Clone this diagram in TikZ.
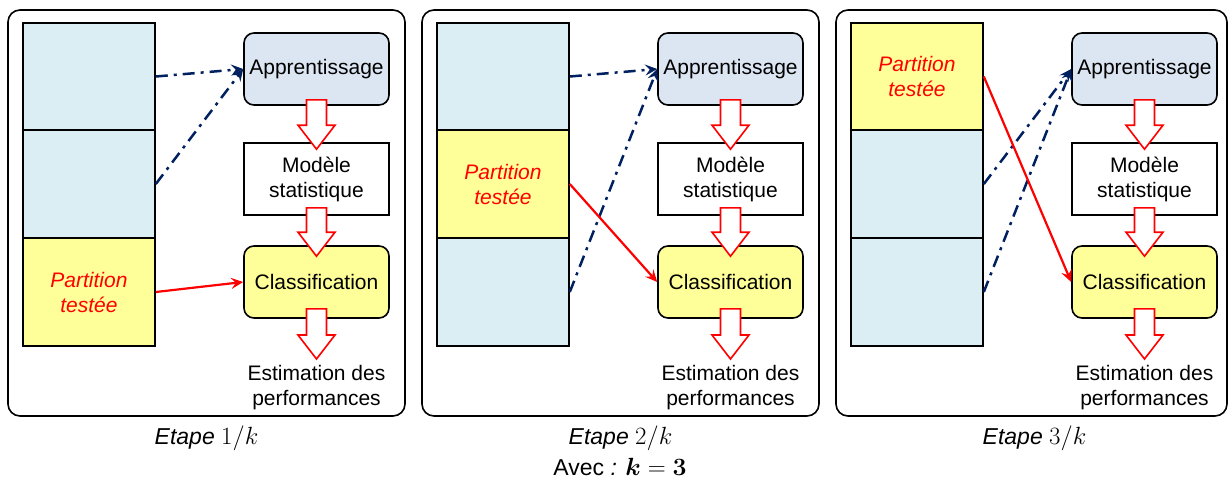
\documentclass[tikz,border=0pt]{standalone}
\usepackage[no-math]{fontspec}
\setmainfont{Liberation Sans}
\usepackage{amsmath,bm}
\usetikzlibrary{calc,arrows.meta}
\definecolor{cellblue}{RGB}{218,238,243}
\definecolor{cellyellow}{RGB}{255,255,153}
\definecolor{appblue}{RGB}{220,230,242}
\definecolor{navy}{RGB}{0,32,96}
\tikzset{
  panel/.style={draw, line width=1.6pt, rounded corners=12pt},
  cell/.style={draw, line width=1.6pt, minimum width=132pt, minimum height=107.5pt, inner sep=0pt, fill=cellblue},
  testcell/.style={cell, fill=cellyellow, text=red, font=\fontsize{21}{25}\selectfont\itshape, align=center},
  procbox/.style={draw, line width=1.6pt, minimum width=145pt, minimum height=72pt, inner sep=0pt, align=center},
  roundbox/.style={procbox, rounded corners=10pt},
  trainarrow/.style={navy, line width=2.5pt, dash pattern=on 12pt off 6pt on 3pt off 6pt, -{Stealth[length=12pt,width=11pt,inset=4.5pt]}},
  testarrow/.style={red, line width=2.2pt, -{Stealth[length=12pt,width=11pt,inset=4.5pt]}},
  blockarr/.style={draw=red, fill=white, line width=1.6pt, line join=miter},
  lbl/.style={align=center, inner sep=0pt},
  caption/.style={inner sep=0pt, font=\fontsize{23}{27}\selectfont}
}
\newcommand\blkarrow[2]{%
  \draw[blockarr] ($(#1)+(-10,0)$) -- ($(#1)+(10,0)$) -- ($(#2)+(10,-24)$) -- ($(#2)+(18.5,-24)$) -- (#2)
    -- ($(#2)+(-18.5,-24)$) -- ($(#2)+(-10,-24)$) -- cycle;}
\begin{document}
\begin{tikzpicture}[x=1pt, y=-1pt, font=\fontsize{21}{25}\selectfont]
\useasboundingbox (0,0) rectangle (1229,482);
% panels
\draw[panel] (8,10) rectangle (405,416);
\draw[panel] (422,10) rectangle (819,416);
\draw[panel] (836,10) rectangle (1227,416);
\foreach \p/\dx/\t in {1/0/3,2/414/2,3/828/1}{
  \begin{scope}[xshift=\dx pt]
    \foreach \r/\y in {1/76.5,2/184,3/292}{
      \ifnum\r=\t
        \node[testcell] (c\p\r) at (89,\y) {Partition\\testée};
      \else
        \node[cell] (c\p\r) at (89,\y) {};
      \fi
    }
    \node[roundbox, fill=appblue] (A\p) at (316.5,69) {Apprentissage};
    \node[procbox, fill=white] (M\p) at (316.5,179) {Modèle\\statistique};
    \node[roundbox, fill=cellyellow] (C\p) at (316.5,282) {Classification};
    \node[lbl] (E\p) at (316.5,387.5) {Estimation des\\performances};
    \foreach \r in {1,2,3}{
      \ifnum\r=\t\else
        \draw[trainarrow] (c\p\r.east) -- (A\p.west);
      \fi
    }
    \draw[testarrow] (c\p\t.east) -- (C\p.west);
    \coordinate (s\p a) at ($(A\p.south)+(0,-6)$);
    \coordinate (t\p a) at ($(M\p.north)+(0,7)$);
    \coordinate (s\p b) at ($(M\p.south)+(0,-8)$);
    \coordinate (t\p b) at ($(C\p.north)+(0,11)$);
    \coordinate (s\p c) at ($(C\p.south)+(0,-10)$);
    \coordinate (t\p c) at (316.5,359);
    \blkarrow{s\p a}{t\p a}
    \blkarrow{s\p b}{t\p b}
    \blkarrow{s\p c}{t\p c}
  \end{scope}
}
\node[caption] (L1) at (206.5,438) {\textit{Etape} $1/k$};
\node[caption] (L2) at (620.5,438) {\textit{Etape} $2/k$};
\node[caption] (L3) at (1034.5,438) {\textit{Etape} $3/k$};
\node[caption] (L4) at (620,467) {Avec \textit{:} $\bm{k}=\mathbf{3}$};
\end{tikzpicture}
\end{document}
